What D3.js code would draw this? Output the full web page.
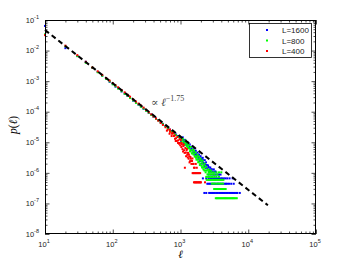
<!DOCTYPE html>
<html><head><meta charset="utf-8">
<script src="https://cdn.jsdelivr.net/npm/d3@7"></script>
<style>body{margin:0;background:#fff}svg{display:block}</style>
</head><body>
<svg id="c" width="349" height="263"></svg>
<script>
// ---- data ----
const seriesNames = ["L=1600", "L=800", "L=400"];
const seriesColors = ["#0000ff", "#00ff00", "#ff0000"];
const xTickExps = [1, 2, 3, 4, 5];
const yTickExps = [-1, -2, -3, -4, -5, -6, -7, -8];

// shared lengths for the main power-law band
const ellBand = [10,20,30,40,50,60,70,80,90,100,110,120,135,150,165,180,200,220,240,260,285,310,340,370,400,435,470,510,550,600,650,700,750,800,860,920,980];
const pBand1600 = [6.4e-2,1.2e-2,6.6e-3,4.3e-3,2.7e-3,2.0e-3,1.5e-3,1.2e-3,9.5e-4,8.0e-4,6.6e-4,5.9e-4,4.6e-4,3.9e-4,3.3e-4,2.85e-4,2.3e-4,2.0e-4,1.7e-4,1.5e-4,1.25e-4,1.1e-4,9.2e-5,8.1e-5,6.9e-5,6.0e-5,5.3e-5,4.5e-5,4.0e-5,3.4e-5,3.0e-5,2.6e-5,2.3e-5,2.05e-5,1.8e-5,1.6e-5,1.42e-5];
const pBand800 = [3.4e-2,1.38e-2,6.6e-3,4.0e-3,2.75e-3,1.95e-3,1.5e-3,1.18e-3,9.8e-4,7.9e-4,6.8e-4,5.7e-4,4.7e-4,3.85e-4,3.35e-4,2.8e-4,2.35e-4,1.95e-4,1.72e-4,1.45e-4,1.27e-4,1.08e-4,9.3e-5,7.9e-5,7.0e-5,5.9e-5,5.2e-5,4.5e-5,3.9e-5,3.35e-5,2.9e-5,2.5e-5,2.2e-5,1.95e-5,1.7e-5,1.5e-5,1.3e-5];
const pBand400 = [3.2e-2,1.45e-2,7.1e-3,4.3e-3,2.8e-3,2.1e-3,1.6e-3,1.27e-3,1.04e-3,8.7e-4,7.3e-4,6.3e-4,5.1e-4,4.3e-4,3.6e-4,3.1e-4,2.55e-4,2.15e-4,1.85e-4,1.6e-4,1.36e-4,1.15e-4,9.6e-5,8.2e-5,7.0e-5,6.0e-5,5.1e-5,4.3e-5,3.7e-5,3.1e-5,2.6e-5,2.2e-5,1.9e-5,1.6e-5,1.35e-5,1.15e-5,9.5e-6];

// scattered tail points [ell, p]
const cloud1600 = [[1020,1.1e-5],[1050,1.3e-5],[1080,1.45e-5],[1100,1.2e-5],[1120,9.5e-6],[1150,1.05e-5],[1170,1.2e-5],[1200,9.7e-6],[1220,8e-6],[1250,8.8e-6],[1270,1.0e-5],[1300,8.2e-6],[1320,6.5e-6],[1350,7.2e-6],[1370,8.5e-6],[1400,6.8e-6],[1420,5.5e-6],[1450,6.1e-6],[1470,7.2e-6],[1500,5.7e-6],[1520,4.6e-6],[1550,5.3e-6],[1570,6.2e-6],[1600,4.8e-6],[1620,3.9e-6],[1650,4.5e-6],[1680,5.3e-6],[1700,4.1e-6],[1720,3.3e-6],[1750,3.8e-6],[1780,4.6e-6],[1800,3.6e-6],[1830,2.8e-6],[1850,3.2e-6],[1880,4.0e-6],[1900,3.4e-6],[1930,2.4e-6],[1950,2.9e-6],[1980,3.5e-6],[2000,2.7e-6],[2050,3.0e-6],[2080,2.0e-6],[2100,2.4e-6],[2130,3.1e-6],[2150,2.6e-6],[2200,2.1e-6],[2250,1.65e-6],[2280,2.6e-6],[2300,1.9e-6],[2350,1.45e-6],[2380,2.2e-6],[2400,1.6e-6],[2450,1.8e-6],[2500,1.4e-6],[2550,1.75e-6],[2600,1.55e-6],[2650,1.1e-6],[2700,1.3e-6],[2750,1.5e-6],[2800,1.1e-6],[2850,1.3e-6],[2900,1.3e-6],[3000,1.1e-6],[3100,1.3e-6],[3200,1.1e-6],[3300,1.1e-6]];
const cloud800 = [[1030,1.0e-5],[1050,1.2e-5],[1080,1.3e-5],[1100,1.05e-5],[1130,8e-6],[1150,9.5e-6],[1180,1.15e-5],[1200,8.5e-6],[1220,1.0e-5],[1250,7.5e-6],[1270,6.8e-6],[1280,9e-6],[1300,6.5e-6],[1330,8e-6],[1350,6.2e-6],[1380,5e-6],[1400,5.3e-6],[1420,7e-6],[1450,5.5e-6],[1470,4.3e-6],[1500,4.6e-6],[1530,5.8e-6],[1550,4.0e-6],[1580,5.2e-6],[1600,4.3e-6],[1620,3.4e-6],[1650,3.5e-6],[1680,4.6e-6],[1700,3.1e-6],[1720,2.7e-6],[1750,3.4e-6],[1780,3.9e-6],[1800,2.7e-6],[1830,2.2e-6],[1850,2.3e-6],[1880,3.4e-6],[1900,2.9e-6],[1930,1.8e-6],[1950,2.0e-6],[1980,2.9e-6],[2000,2.5e-6],[2050,1.7e-6],[2080,1.5e-6],[2100,2.1e-6],[2130,2.5e-6],[2150,1.5e-6],[2180,1.3e-6],[2200,1.8e-6],[2250,1.2e-6],[2280,2.0e-6],[2300,1.5e-6],[2330,1.2e-6],[2350,1.04e-6],[2400,1.6e-6],[2450,1.2e-6],[2550,1.3e-6],[2600,1.04e-6],[2650,1.2e-6],[2800,1.2e-6]];
const cloud400 = [[630,2.4e-5],[690,1.9e-5],[700,2.6e-5],[740,1.6e-5],[760,2.1e-5],[780,2.0e-5],[820,1.7e-5],[830,1.3e-5],[850,1.1e-5],[880,1.1e-5],[900,1.5e-5],[920,9.5e-6],[950,9e-6],[970,1.25e-5],[990,8e-6],[1010,1.2e-5],[1030,7e-6],[1040,9.5e-6],[1050,8.5e-6],[1070,6e-6],[1090,5e-6],[1100,7.5e-6],[1120,8.5e-6],[1130,5.5e-6],[1150,4.5e-6],[1160,1.47e-6],[1180,6.5e-6],[1200,4.6e-6],[1210,3.5e-6],[1230,5.5e-6],[1240,6e-6],[1260,3.9e-6],[1280,3.2e-6],[1290,4.5e-6],[1320,2.9e-6],[1330,4e-6],[1350,3.5e-6],[1360,2.2e-6],[1380,2.4e-6],[1400,3.3e-6],[1420,2.9e-6],[1440,2.45e-6],[1450,1.96e-6],[1480,2.45e-6],[1500,2.95e-6],[1520,1.96e-6],[1560,1.96e-6],[1580,1.47e-6],[1620,1.47e-6],[1680,1.96e-6],[1740,1.47e-6]];

// discrete count levels: [p, [ell...]]
const levels1600 = [
  [8.8e-7, [2600,2800,3000,3150,3300,3500,3700,3900]],
  [6.6e-7, [2140,2400,2600,2750,2900,3050,3200,3350,3500,3700,3900,4100,4350,4600,4900,5300,5900]],
  [4.4e-7, [2490,2600,2720,2850,2980,3120,3260,3410,3570,3730,3900,4080,4270,4470,4680,4900,5200,5600,6100]],
  [2.2e-7, [2250,2400,2650,2780,2920,3060,3210,3370,3540,3720,3900,4100,4300,4520,4740,4980,5230,5490,5760,6050,6350,6670,6900,7500]]
];
const levels800 = [
  [1.04e-6, [2700,2900,3100,3400,3700,4000]],
  [8.9e-7, [2500,2650,2800,3000,3200,3500]],
  [7.4e-7, [2400,2550,2700,2850,3000,3200,3400,3700]],
  [5.9e-7, [2440,2540,2640,2750,2860,2980,3100,3230,3360,3500,3640,3790,3950,4110,4300]],
  [4.44e-7, [2900,3050,3200,3400,3600,3800,4000,4250]],
  [2.96e-7, [3140,3260,3390,3520,3660,3800,3950,4110,4280,4450,4640]],
  [1.48e-7, [3320,3450,3590,3730,3880,4030,4190,4360,4530,4710,4900,5090,5300,5500,5720,5950,6200,6450,6770]]
];
const levels400 = [
  [9.8e-7, [1510,1550,1600,1650,1700,1760,1820,1880,1950]],
  [4.9e-7, [1580,1620,1660,1700,1740,1780,1830,1870,1920,1970,2000,2300]]
];

// fitted power law  p ∝ ell^-1.75 (end points)
const fitEll = [10, 19500];
const fitP = [4.7e-2, 8.7e-8];

// ---- drawing ----
const svg = d3.select("#c");
const L = 45, R = 316, T = 20, B = 234;
const x = d3.scaleLog().domain([1e1, 1e5]).range([L, R]);
const y = d3.scaleLog().domain([1e-8, 1e-1]).range([B, T]);

function toPoints(band, cloud, levels) {
  const pts = ellBand.map((e, i) => [e, band[i]]);
  cloud.forEach(d => pts.push(d));
  levels.forEach(([p, ells]) => ells.forEach(e => pts.push([e, p])));
  return pts;
}
const allSeries = [
  toPoints(pBand1600, cloud1600, levels1600),
  toPoints(pBand800, cloud800, levels800),
  toPoints(pBand400, cloud400, levels400)
];

const gData = svg.append("g");
allSeries.forEach((pts, si) => {
  gData.selectAll(null).data(pts).enter().append("rect")
    .attr("x", d => x(d[0]) - 1).attr("y", d => y(d[1]) - 1)
    .attr("width", 2).attr("height", 2)
    .attr("fill", seriesColors[si]);
});

// dashed fit line
svg.append("path")
  .attr("d", d3.line().x(d => x(d[0])).y(d => y(d[1]))(fitEll.map((e, i) => [e, fitP[i]])))
  .attr("stroke", "#000").attr("stroke-width", 2).attr("fill", "none")
  .attr("stroke-dasharray", "5,3.5");

// axes (ticks inside, on all four sides)
const major = d => Math.abs(Math.log10(d) - Math.round(Math.log10(d))) < 1e-9;
const xMin = x.ticks().filter(d => !major(d));
const yMin = y.ticks().filter(d => !major(d));
const xMaj = xTickExps.map(e => Math.pow(10, e));
const yMaj = yTickExps.map(e => Math.pow(10, e));

function ax(gen, pos, vals, size) {
  const g = svg.append("g").attr("transform", pos)
    .call(gen.tickValues(vals).tickSize(size).tickFormat(""));
  g.select(".domain").remove();
  g.selectAll("line").attr("stroke", "#000").attr("stroke-width", 0.7);
}
ax(d3.axisBottom(x), `translate(0,${B})`, xMaj, -4.5);
ax(d3.axisBottom(x), `translate(0,${B})`, xMin, -2.5);
ax(d3.axisTop(x), `translate(0,${T})`, xMaj, -4.5);
ax(d3.axisTop(x), `translate(0,${T})`, xMin, -2.5);
ax(d3.axisLeft(y), `translate(${L},0)`, yMaj, -4.5);
ax(d3.axisLeft(y), `translate(${L},0)`, yMin, -2.5);
ax(d3.axisRight(y), `translate(${R},0)`, yMaj, -4.5);
ax(d3.axisRight(y), `translate(${R},0)`, yMin, -2.5);

svg.append("rect").attr("x", L + 0.5).attr("y", T + 0.5)
  .attr("width", R - L - 1).attr("height", B - T - 1)
  .attr("fill", "none").attr("stroke", "#000").attr("stroke-width", 1);

const FONT = "'Liberation Sans', Arial, Helvetica, sans-serif";
// x tick labels
xTickExps.forEach(e => {
  const t = svg.append("text").attr("x", x(Math.pow(10, e)) - 1).attr("y", 246.5)
    .attr("text-anchor", "middle").attr("font-family", FONT).attr("font-size", 7.5).attr("fill", "#222");
  t.append("tspan").text("10");
  t.append("tspan").attr("dy", -4).attr("font-size", 5.5).text(e);
});
// y tick labels
yTickExps.forEach(e => {
  const t = svg.append("text").attr("x", 39).attr("y", y(Math.pow(10, e)) + 2.7)
    .attr("text-anchor", "end").attr("font-family", FONT).attr("font-size", 7.5).attr("fill", "#222");
  t.append("tspan").text("10");
  t.append("tspan").attr("dy", -4).attr("font-size", 5.5).text(e);
});

const SERIF = "'Liberation Serif', 'DejaVu Serif', serif";
// axis labels
svg.append("text").attr("x", (L + R) / 2).attr("y", 258).attr("text-anchor", "middle")
  .attr("font-family", SERIF).attr("font-style", "italic").attr("font-size", 11).text("ℓ");
const yl = svg.append("text").attr("transform", "translate(17,125) rotate(-90)")
  .attr("text-anchor", "middle").attr("font-family", SERIF).attr("font-size", 11.5);
yl.append("tspan").attr("font-style", "italic").text("p");
yl.append("tspan").text("(");
yl.append("tspan").attr("font-style", "italic").text("ℓ");
yl.append("tspan").text(")");

// annotation
const an = svg.append("text").attr("x", 151).attr("y", 106)
  .attr("font-family", SERIF).attr("font-size", 11).attr("fill", "#444");
an.append("tspan").text("∝ ");
an.append("tspan").attr("font-style", "italic").text("ℓ");
an.append("tspan").attr("dy", -5).attr("font-size", 8).text("−1.75");

// legend
const lg = svg.append("g");
lg.append("rect").attr("x", 249.5).attr("y", 23.5).attr("width", 62).attr("height", 34)
  .attr("fill", "#fff").attr("stroke", "#000").attr("stroke-width", 0.8);
seriesNames.forEach((n, i) => {
  const yy = 30 + i * 10.5;
  lg.append("rect").attr("x", 266).attr("y", yy - 1).attr("width", 2).attr("height", 2).attr("fill", seriesColors[i]);
  lg.append("text").attr("x", 282).attr("y", yy + 3).attr("font-family", FONT)
    .attr("font-size", 8).attr("fill", "#222").text(n);
});
</script>
</body></html>
